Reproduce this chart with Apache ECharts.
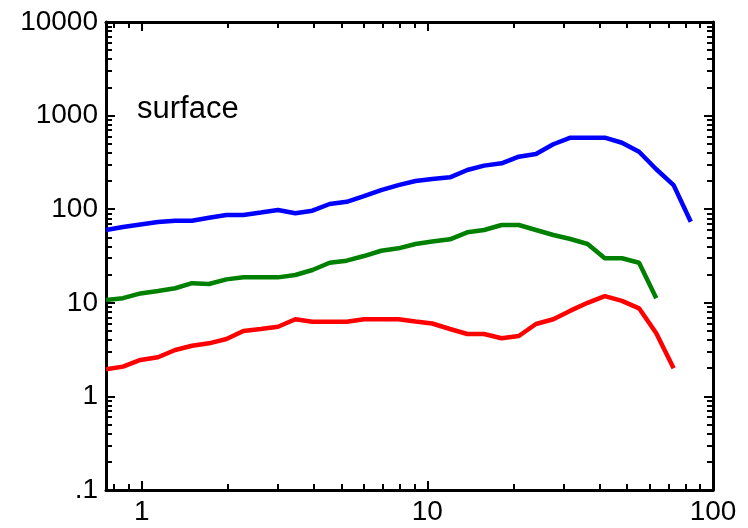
<!doctype html>
<html>
<head>
<meta charset="utf-8">
<title>surface</title>
<script src="https://cdn.jsdelivr.net/npm/echarts@6/dist/echarts.min.js"></script>
<style>
  html, body {margin:0; padding:0; background:#fff;}
  #main {width:748px; height:528px;}
</style>
</head>
<body>
<div id="main"></div>
<script>
"use strict";
// x sample points (shared by the three curves)
var xValues = [0.75, 0.86, 0.99, 1.14, 1.31, 1.5, 1.72, 1.98, 2.27, 2.61,
	3.0, 3.45, 3.96, 4.55, 5.22, 6.0, 6.89, 7.92, 9.09, 10.4,
	12.0, 13.8, 15.8, 18.2, 20.9, 24.0, 27.6, 31.7, 36.4, 41.8,
	48.0, 55.1, 63.3, 72.8, 83.6];
var blueValues = [60, 64.5, 68.7, 73, 75.4, 75.4, 81, 86.7, 86.7, 92,
	98, 90.4, 96.4, 113.7, 120, 138, 160, 181, 200, 210,
	219, 262, 292, 309, 364, 389, 494, 581, 581, 581,
	513, 411, 267, 181, 73.5];
var greenValues = [10.7, 11.2, 12.6, 13.4, 14.3, 16.2, 15.9, 17.8, 18.7, 18.7,
	18.7, 19.8, 22.4, 26.8, 28.2, 31.6, 36.0, 38.2, 42.5, 45.2,
	47.7, 56.6, 60, 67.8, 67.8, 60, 53, 48, 42.5, 29.9,
	29.9, 26.8, 11.2];
var redValues = [1.95, 2.08, 2.45, 2.62, 3.13, 3.48, 3.69, 4.10, 5.0, 5.25,
	5.55, 6.67, 6.28, 6.28, 6.28, 6.67, 6.67, 6.67, 6.31, 6.01,
	5.25, 4.64, 4.64, 4.18, 4.42, 5.94, 6.67, 8.24, 10.0, 11.8,
	10.5, 8.73, 4.72, 2.0];

// ticks
var xMajorTicks = [1, 10, 100];
var xMinorTicks = [0.8, 0.9, 2, 3, 4, 5, 6, 7, 8, 9, 20, 30, 40, 50, 60, 70, 80, 90];
var yMajorTicks = [0.1, 1, 10, 100, 1000, 10000];
var yMinorTicks = [0.2, 0.3, 0.4, 0.5, 0.6, 0.7, 0.8, 0.9,
	2, 3, 4, 5, 6, 7, 8, 9,
	20, 30, 40, 50, 60, 70, 80, 90,
	200, 300, 400, 500, 600, 700, 800, 900,
	2000, 3000, 4000, 5000, 6000, 7000, 8000, 9000];

var FONT = "'Liberation Sans', Arial, Helvetica, sans-serif";

function pairs(ys) {
	var out = [];
	for (var i = 0; i < ys.length; i++) out.push([xValues[i], ys[i]]);
	return out;
}

// one axis per side for the long ticks (+ line, labels), one for short ticks
function makeAxis(pos, min, max, ticks, major, labels) {
	return {
		type: 'log',
		position: pos,
		min: min,
		max: max,
		logBase: 10,
		axisLine: {show: major, onZero: false, lineStyle: {color: '#000', width: 3}},
		axisTick: {show: true, inside: true, length: major ? 9 : 6,
			customValues: ticks, lineStyle: {color: '#000', width: 2}},
		axisLabel: {show: !!labels, customValues: labels || [], color: '#000',
			fontSize: 28, fontFamily: FONT, margin: 8,
			formatter: function (v) { return v === 0.1 ? '.1' : String(v); }},
		splitLine: {show: false},
		minorTick: {show: false}
	};
}

var myChart = echarts.init(document.getElementById('main'));
myChart.setOption({
	animation: false,
	backgroundColor: '#fff',
	grid: {left: 106, right: 35, top: 22, bottom: 38, containLabel: false},
	xAxis: [
		makeAxis('bottom', 0.75, 100, xMajorTicks, true, xMajorTicks),
		makeAxis('bottom', 0.75, 100, xMinorTicks, false),
		makeAxis('top', 0.75, 100, xMajorTicks, true),
		makeAxis('top', 0.75, 100, xMinorTicks, false)
	],
	yAxis: [
		makeAxis('left', 0.1, 10000, yMajorTicks, true, yMajorTicks),
		makeAxis('left', 0.1, 10000, yMinorTicks, false),
		makeAxis('right', 0.1, 10000, yMajorTicks, true),
		makeAxis('right', 0.1, 10000, yMinorTicks, false)
	],
	graphic: [{
		type: 'text', left: 137, top: 94,
		style: {text: 'surface', fill: '#000', fontSize: 31, fontFamily: FONT}
	}],
	series: [
		{name: 'blue', type: 'line', data: pairs(blueValues), showSymbol: false,
			lineStyle: {color: '#0000ff', width: 4.5}, itemStyle: {color: '#0000ff'}},
		{name: 'green', type: 'line', data: pairs(greenValues), showSymbol: false,
			lineStyle: {color: '#008000', width: 4.5}, itemStyle: {color: '#008000'}},
		{name: 'red', type: 'line', data: pairs(redValues), showSymbol: false,
			lineStyle: {color: '#ff0000', width: 4.5}, itemStyle: {color: '#ff0000'}}
	]
});
</script>
</body>
</html>
